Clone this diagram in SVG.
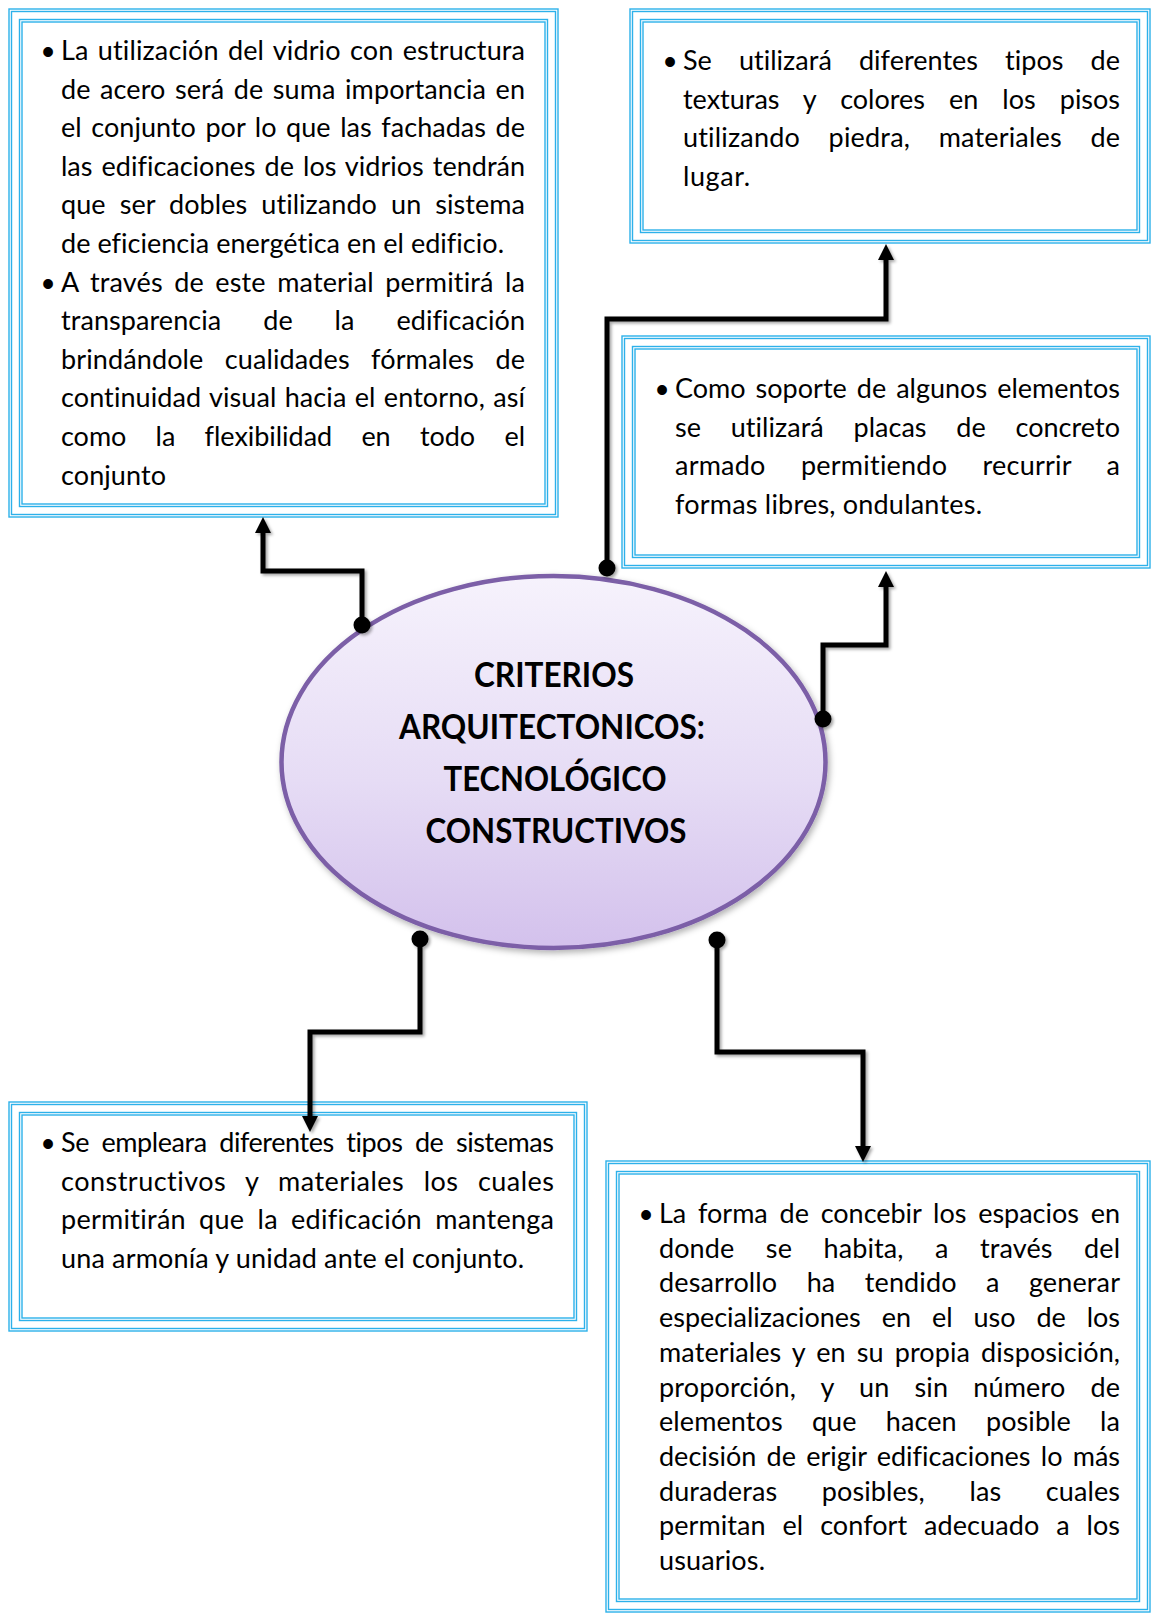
<svg xmlns="http://www.w3.org/2000/svg" width="1153" height="1618" viewBox="0 0 1153 1618">
<defs>
<style>
.fr{fill:none;stroke:#2db1ea;stroke-width:1.4}
.t{font-family:Lato,"Liberation Sans",sans-serif;font-size:27px;fill:#000;font-variant-ligatures:none}
.bu{font-family:"Liberation Sans",sans-serif;font-size:36px;fill:#000;text-anchor:middle}
.ti{font-family:Lato,"Liberation Sans",sans-serif;font-weight:bold;font-size:35px;fill:#000;text-anchor:middle;font-variant-ligatures:none}
.cn{fill:none;stroke:#000;stroke-width:5;stroke-linejoin:miter}
</style>
<linearGradient id="eg" x1="0" y1="0" x2="0" y2="1">
<stop offset="0" stop-color="#f6f2fc"/>
<stop offset="0.55" stop-color="#e6dcf5"/>
<stop offset="1" stop-color="#d3c1ec"/>
</linearGradient>
<filter id="sh" x="-10%" y="-10%" width="130%" height="130%">
<feDropShadow dx="2" dy="2" stdDeviation="1.5" flood-color="#000" flood-opacity="0.35"/>
</filter>
<filter id="esh" x="-10%" y="-10%" width="130%" height="130%">
<feDropShadow dx="2" dy="3" stdDeviation="3" flood-color="#000" flood-opacity="0.3"/>
</filter>
</defs>
<rect width="1153" height="1618" fill="#fff"/>

<g id="box1">
<rect class="fr" x="9" y="9" width="549" height="508"/>
<rect class="fr" x="11.5" y="11.5" width="544" height="503"/>
<rect class="fr" x="19.5" y="19.5" width="528" height="487"/>
<rect class="fr" x="22" y="22" width="523" height="482"/>
<text class="bu" x="48" y="64">•</text>
<text class="bu" x="48" y="295.6">•</text>
<text class="t" x="61" y="60" textLength="464" lengthAdjust="spacing" style="word-spacing:2.3px">La utilización del vidrio con estructura</text>
<text class="t" x="61" y="98.6" textLength="464" lengthAdjust="spacing" style="word-spacing:2.4px">de acero será de suma importancia en</text>
<text class="t" x="61" y="137.2" textLength="464" lengthAdjust="spacing" style="word-spacing:2.6px">el conjunto por lo que las fachadas de</text>
<text class="t" x="61" y="175.8" textLength="464" lengthAdjust="spacing" style="word-spacing:2.2px">las edificaciones de los vidrios tendrán</text>
<text class="t" x="61" y="214.4" textLength="464" lengthAdjust="spacing" style="word-spacing:7.1px">que ser dobles utilizando un sistema</text>
<text class="t" x="61" y="253" textLength="443" lengthAdjust="spacing">de eficiencia energética en el edificio.</text>
<text class="t" x="61" y="291.6" textLength="464" lengthAdjust="spacing" style="word-spacing:4.4px">A través de este material permitirá la</text>
<text class="t" x="61" y="330.2" textLength="464" lengthAdjust="spacing" style="word-spacing:34.9px">transparencia de la edificación</text>
<text class="t" x="61" y="368.8" textLength="464" lengthAdjust="spacing" style="word-spacing:14.3px">brindándole cualidades fórmales de</text>
<text class="t" x="61" y="407.4" textLength="464" lengthAdjust="spacing" style="word-spacing:1.3px">continuidad visual hacia el entorno, así</text>
<text class="t" x="61" y="446" textLength="464" lengthAdjust="spacing" style="word-spacing:22.4px">como la flexibilidad en todo el</text>
<text class="t" x="61" y="484.6" textLength="105" lengthAdjust="spacing">conjunto</text>
</g>

<g id="box2">
<rect class="fr" x="630" y="9" width="520" height="234"/>
<rect class="fr" x="632.5" y="11.5" width="515" height="229"/>
<rect class="fr" x="640.5" y="19.5" width="499" height="213"/>
<rect class="fr" x="643" y="22" width="494" height="208"/>
<text class="bu" x="670" y="74">•</text>
<text class="t" x="683" y="70" textLength="437" lengthAdjust="spacing" style="word-spacing:20.1px">Se utilizará diferentes tipos de</text>
<text class="t" x="683" y="108.5" textLength="437" lengthAdjust="spacing" style="word-spacing:17.2px">texturas y colores en los pisos</text>
<text class="t" x="683" y="147" textLength="437" lengthAdjust="spacing" style="word-spacing:21.5px">utilizando piedra, materiales de</text>
<text class="t" x="683" y="185.5" textLength="67" lengthAdjust="spacing">lugar.</text>
</g>

<g id="box3">
<rect class="fr" x="622" y="336" width="528" height="232"/>
<rect class="fr" x="624.5" y="338.5" width="523" height="227"/>
<rect class="fr" x="632.5" y="346.5" width="507" height="211"/>
<rect class="fr" x="635" y="349" width="502" height="206"/>
<text class="bu" x="662" y="402">•</text>
<text class="t" x="675" y="398" textLength="445" lengthAdjust="spacing" style="word-spacing:3.1px">Como soporte de algunos elementos</text>
<text class="t" x="675" y="436.7" textLength="445" lengthAdjust="spacing" style="word-spacing:22.8px">se utilizará placas de concreto</text>
<text class="t" x="675" y="475.4" textLength="445" lengthAdjust="spacing" style="word-spacing:28.2px">armado permitiendo recurrir a</text>
<text class="t" x="675" y="514" textLength="307" lengthAdjust="spacing">formas libres, ondulantes.</text>
</g>

<g id="box4">
<rect class="fr" x="9" y="1102" width="578" height="229"/>
<rect class="fr" x="11.5" y="1104.5" width="573" height="224"/>
<rect class="fr" x="19.5" y="1112.5" width="557" height="208"/>
<rect class="fr" x="22" y="1115" width="552" height="203"/>
<text class="bu" x="48" y="1156">•</text>
<text class="t" x="61" y="1152" textLength="493" lengthAdjust="spacing" style="word-spacing:6px">Se empleara diferentes tipos de sistemas</text>
<text class="t" x="61" y="1190.5" textLength="493" lengthAdjust="spacing" style="word-spacing:12px">constructivos y materiales los cuales</text>
<text class="t" x="61" y="1229" textLength="493" lengthAdjust="spacing" style="word-spacing:6px">permitirán que la edificación mantenga</text>
<text class="t" x="61" y="1267.5" textLength="463" lengthAdjust="spacing">una armonía y unidad ante el conjunto.</text>
</g>

<g id="box5">
<rect class="fr" x="606" y="1161" width="544" height="451"/>
<rect class="fr" x="608.5" y="1163.5" width="539" height="446"/>
<rect class="fr" x="616.5" y="1171.5" width="523" height="430"/>
<rect class="fr" x="619" y="1174" width="518" height="425"/>
<text class="bu" x="646" y="1227">•</text>
<text class="t" x="659" y="1223" textLength="461" lengthAdjust="spacing" style="word-spacing:5px">La forma de concebir los espacios en</text>
<text class="t" x="659" y="1257.7" textLength="461" lengthAdjust="spacing" style="word-spacing:24.5px">donde se habita, a través del</text>
<text class="t" x="659" y="1292.4" textLength="461" lengthAdjust="spacing" style="word-spacing:22.3px">desarrollo ha tendido a generar</text>
<text class="t" x="659" y="1327.1" textLength="461" lengthAdjust="spacing" style="word-spacing:14.1px">especializaciones en el uso de los</text>
<text class="t" x="659" y="1361.8" textLength="461" lengthAdjust="spacing" style="word-spacing:4px">materiales y en su propia disposición,</text>
<text class="t" x="659" y="1396.5" textLength="461" lengthAdjust="spacing" style="word-spacing:18px">proporción, y un sin número de</text>
<text class="t" x="659" y="1431.2" textLength="461" lengthAdjust="spacing" style="word-spacing:22.2px">elementos que hacen posible la</text>
<text class="t" x="659" y="1465.9" textLength="461" lengthAdjust="spacing" style="word-spacing:3.3px">decisión de erigir edificaciones lo más</text>
<text class="t" x="659" y="1500.6" textLength="461" lengthAdjust="spacing" style="word-spacing:37.6px">duraderas posibles, las cuales</text>
<text class="t" x="659" y="1535.3" textLength="461" lengthAdjust="spacing" style="word-spacing:9.9px">permitan el confort adecuado a los</text>
<text class="t" x="659" y="1570" textLength="106" lengthAdjust="spacing">usuarios.</text>
</g>

<g id="center">
<ellipse cx="553.5" cy="762" rx="272" ry="186" fill="url(#eg)" stroke="#7b5ea7" stroke-width="4.5" filter="url(#esh)"/>
<text class="ti" x="554" y="687" textLength="160" lengthAdjust="spacingAndGlyphs">CRITERIOS</text>
<text class="ti" x="552" y="739" textLength="306" lengthAdjust="spacingAndGlyphs">ARQUITECTONICOS:</text>
<text class="ti" x="555" y="791" textLength="223" lengthAdjust="spacingAndGlyphs">TECNOLÓGICO</text>
<text class="ti" x="556" y="843" textLength="261" lengthAdjust="spacingAndGlyphs">CONSTRUCTIVOS</text>
</g>

<g id="connectors" filter="url(#sh)">
<path class="cn" d="M362,625 V571 H263 V530"/>
<polygon points="255,533 271,533 263,517"/>
<circle cx="362" cy="625" r="8.5"/>
<path class="cn" d="M607,568 V319 H886 V258"/>
<polygon points="878,260 894,260 886,244"/>
<circle cx="607" cy="568" r="8.5"/>
<path class="cn" d="M823,719 V645 H886 V585"/>
<polygon points="878,587 894,587 886,571"/>
<circle cx="823" cy="719" r="8.5"/>
<path class="cn" d="M420,939 V1032 H310 V1118"/>
<polygon points="302,1116 318,1116 310,1132"/>
<circle cx="420" cy="939" r="8.5"/>
<path class="cn" d="M717,940 V1052 H863 V1148"/>
<polygon points="855,1146 871,1146 863,1162"/>
<circle cx="717" cy="940" r="8.5"/>
</g>
</svg>
